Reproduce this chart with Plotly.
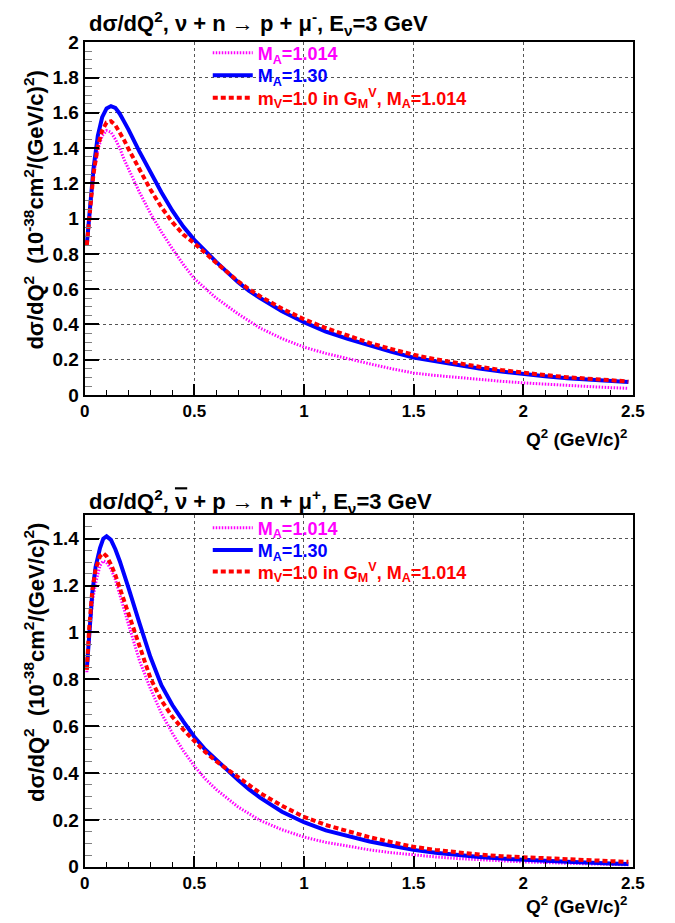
import plotly.graph_objects as go

W, H = 675, 923

# ---------------- data ----------------
# Top panel: nu + n -> p + mu-
q2_top_ma1014 = [0.01, 0.025, 0.04, 0.06, 0.08, 0.10, 0.12, 0.14, 0.16, 0.18, 0.20, 0.25, 0.30, 0.35,
                 0.40, 0.45, 0.50, 0.60, 0.70, 0.75, 0.80, 0.90, 1.00, 1.10, 1.20, 1.30, 1.40, 1.50,
                 1.60, 1.70, 1.80, 1.90, 2.00, 2.10, 2.20, 2.30, 2.40, 2.48]
xs_top_ma1014 = [0.85, 1.05, 1.24, 1.39, 1.47, 1.50, 1.49, 1.45, 1.40, 1.335, 1.28, 1.15, 1.03, 0.925,
                 0.83, 0.74, 0.66, 0.55, 0.46, 0.42, 0.38, 0.32, 0.272, 0.236, 0.205, 0.177, 0.149, 0.125,
                 0.111, 0.099, 0.088, 0.078, 0.069, 0.061, 0.054, 0.048, 0.042, 0.038]

q2_top_ma130 = [0.01, 0.025, 0.04, 0.06, 0.08, 0.10, 0.12, 0.14, 0.16, 0.18, 0.20, 0.25, 0.30, 0.35,
                0.40, 0.45, 0.50, 0.60, 0.70, 0.75, 0.80, 0.90, 1.00, 1.10, 1.20, 1.30, 1.40, 1.50,
                1.60, 1.70, 1.80, 1.90, 2.00, 2.10, 2.20, 2.30, 2.40, 2.48]
xs_top_ma130 = [0.855, 1.08, 1.28, 1.47, 1.575, 1.625, 1.638, 1.628, 1.595, 1.55, 1.505, 1.38, 1.26, 1.15,
                1.045, 0.955, 0.88, 0.755, 0.64, 0.59, 0.55, 0.475, 0.413, 0.36, 0.318, 0.28, 0.245, 0.212,
                0.19, 0.168, 0.15, 0.133, 0.118, 0.106, 0.095, 0.087, 0.079, 0.074]

q2_top_mv10 = [0.01, 0.025, 0.04, 0.06, 0.08, 0.10, 0.12, 0.14, 0.16, 0.18, 0.20, 0.25, 0.30, 0.35,
               0.40, 0.45, 0.50, 0.60, 0.70, 0.75, 0.80, 0.90, 1.00, 1.10, 1.20, 1.30, 1.40, 1.50,
               1.60, 1.70, 1.80, 1.90, 2.00, 2.10, 2.20, 2.30, 2.40, 2.48]
xs_top_mv10 = [0.85, 1.06, 1.25, 1.41, 1.50, 1.545, 1.552, 1.53, 1.49, 1.445, 1.395, 1.28, 1.165, 1.065,
               0.98, 0.91, 0.86, 0.75, 0.645, 0.60, 0.56, 0.49, 0.43, 0.38, 0.335, 0.295, 0.26, 0.228,
               0.203, 0.18, 0.16, 0.142, 0.126, 0.113, 0.101, 0.091, 0.083, 0.077]

# Bottom panel: anti-nu + p -> n + mu+
q2_bot = [0.01, 0.02, 0.035, 0.05, 0.07, 0.085, 0.10, 0.12, 0.14, 0.16, 0.18, 0.20, 0.25, 0.30,
          0.35, 0.40, 0.45, 0.50, 0.55, 0.60, 0.70, 0.75, 0.80, 0.90, 1.00, 1.10, 1.20, 1.30,
          1.40, 1.50, 1.60, 1.70, 1.80, 1.90, 2.00, 2.20, 2.40, 2.48]
xs_bot_ma1014 = [0.83, 0.97, 1.13, 1.21, 1.285, 1.305, 1.298, 1.27, 1.225, 1.165, 1.10, 1.035, 0.88, 0.76,
                 0.655, 0.57, 0.495, 0.43, 0.375, 0.33, 0.255, 0.225, 0.198, 0.158, 0.127, 0.104, 0.087, 0.072,
                 0.06, 0.05, 0.042, 0.035, 0.03, 0.025, 0.021, 0.015, 0.01, 0.008]
xs_bot_ma130 = [0.845, 1.00, 1.17, 1.28, 1.36, 1.40, 1.41, 1.395, 1.355, 1.305, 1.25, 1.19, 1.04, 0.895,
                0.775, 0.69, 0.62, 0.555, 0.50, 0.455, 0.37, 0.33, 0.295, 0.235, 0.19, 0.155, 0.13, 0.108,
                0.09, 0.072, 0.06, 0.05, 0.042, 0.035, 0.029, 0.021, 0.014, 0.012]
xs_bot_mv10 = [0.84, 1.01, 1.18, 1.27, 1.325, 1.338, 1.325, 1.29, 1.245, 1.19, 1.13, 1.07, 0.93, 0.805,
               0.71, 0.64, 0.585, 0.535, 0.49, 0.45, 0.38, 0.345, 0.315, 0.26, 0.213, 0.178, 0.15, 0.126,
               0.105, 0.085, 0.072, 0.061, 0.052, 0.045, 0.04, 0.031, 0.024, 0.021]

legend_names = [
    '<span style="color:#ff00ff">M<sub>A</sub>=1.014</span>',
    '<span style="color:#0000ff">M<sub>A</sub>=1.30</span>',
    '<span style="color:#ff0000">m<sub>V</sub>=1.0 in G<sub>M</sub><sup>V</sup>, M<sub>A</sub>=1.014</span>',
]
titles = [
    "dσ/dQ<sup>2</sup>, ν + n → p + μ<sup>-</sup>, E<sub>ν</sub>=3 GeV",
    'dσ/dQ<sup>2</sup>, <span style="text-decoration:overline">ν</span> + p → n + μ<sup>+</sup>, E<sub>ν</sub>=3 GeV',
]
ytitle = "dσ/dQ<sup>2</sup>  (10<sup>-38</sup>cm<sup>2</sup>/(GeV/c)<sup>2</sup>)"
xtitle = "Q<sup>2</sup> (GeV/c)<sup>2</sup>"

# ---------------- styling ----------------
FONT = "Liberation Sans, Arial, Helvetica, sans-serif"
styles = [
    dict(color="#ff00ff", width=3, dash="1.5px,1.5px"),
    dict(color="#0000ff", width=4, dash="solid"),
    dict(color="#ff0000", width=4, dash="5px,3px"),
]


def px_x(p):
    return p / W


def px_y(p):
    return 1 - p / H


fig = go.Figure()

top_series = [(q2_top_ma1014, xs_top_ma1014), (q2_top_ma130, xs_top_ma130), (q2_top_mv10, xs_top_mv10)]
bot_series = [(q2_bot, xs_bot_ma1014), (q2_bot, xs_bot_ma130), (q2_bot, xs_bot_mv10)]

leg_ids_top = ["legend", "legend2", "legend3"]
leg_ids_bot = ["legend4", "legend5", "legend6"]

for i, (x, y) in enumerate(top_series):
    fig.add_trace(go.Scatter(x=x, y=y, mode="lines", line=styles[i], name=legend_names[i],
                             xaxis="x", yaxis="y", legend=leg_ids_top[i]))
for i, (x, y) in enumerate(bot_series):
    fig.add_trace(go.Scatter(x=x, y=y, mode="lines", line=styles[i], name=legend_names[i],
                             xaxis="x2", yaxis="y2", legend=leg_ids_bot[i]))

X0, X1 = 81.7, 644
TOP_T, TOP_B = 33, 394
BOT_T, BOT_B = 517, 876.7

common_x = dict(range=[0, 2.5], tick0=0, dtick=0.5, ticks="inside", ticklen=11, tickwidth=1.5,
                tickcolor="black", showgrid=True, gridcolor="#555", griddash="dot", gridwidth=1,
                showline=True, mirror=True, linecolor="black", linewidth=2, zeroline=False,
                tickfont=dict(family=FONT, size=17, color="black", weight="bold"),
                minor=dict(dtick=0.1, ticks="inside", ticklen=5, tickwidth=1.2, tickcolor="black", showgrid=False))
common_y = dict(tick0=0, dtick=0.2, ticks="inside", ticklen=14, tickwidth=1.5,
                tickcolor="black", showgrid=True, gridcolor="#555", griddash="dot", gridwidth=1,
                showline=True, mirror=True, linecolor="black", linewidth=2, zeroline=False,
                tickfont=dict(family=FONT, size=19, color="black", weight="bold"),
                minor=dict(dtick=0.05, ticks="inside", ticklen=7, tickwidth=1.2, tickcolor="gray", showgrid=False))

leg_common = dict(bgcolor="rgba(0,0,0,0)", borderwidth=0, itemwidth=40, xanchor="left", yanchor="middle",
                  font=dict(family=FONT, size=18, weight="bold"), tracegroupgap=0)

row_top = [44, 67, 90]
row_bot = [530, 553, 575]
legends = {}
for lid, yc in zip(leg_ids_top, row_top):
    legends[lid] = dict(x=px_x(208), y=px_y(yc), **leg_common)
for lid, yc in zip(leg_ids_bot, row_bot):
    legends[lid] = dict(x=px_x(208), y=px_y(yc), **leg_common)

fig.update_layout(
    width=W, height=H, paper_bgcolor="white", plot_bgcolor="white",
    margin=dict(l=0, r=0, t=0, b=0),
    showlegend=True,
    xaxis=dict(domain=[px_x(X0), px_x(X1)], anchor="y", **common_x),
    yaxis=dict(domain=[px_y(TOP_B), px_y(TOP_T)], anchor="x", range=[0, 2], **common_y),
    xaxis2=dict(domain=[px_x(X0), px_x(X1)], anchor="y2", **common_x),
    yaxis2=dict(domain=[px_y(BOT_B), px_y(BOT_T)], anchor="x2", range=[0, 1.5], **common_y),
    **legends,
)

ann = []
# panel titles
ann.append(dict(text=titles[0], x=px_x(84), y=px_y(14), xref="paper", yref="paper",
                xanchor="left", yanchor="middle", showarrow=False,
                font=dict(family=FONT, size=22, color="black", weight="bold")))
ann.append(dict(text=titles[1], x=px_x(84), y=px_y(503), xref="paper", yref="paper",
                xanchor="left", yanchor="middle", showarrow=False,
                font=dict(family=FONT, size=22, color="black", weight="bold")))
# x titles
for yc in (438, 916):
    ann.append(dict(text=xtitle, x=px_x(640), y=px_y(yc), xref="paper", yref="paper",
                    xanchor="right", yanchor="middle", showarrow=False,
                    font=dict(family=FONT, size=19, color="black", weight="bold")))
# y titles
for yc in (205, 668):
    ann.append(dict(text=ytitle, x=px_x(30), y=px_y(yc), xref="paper", yref="paper",
                    xanchor="center", yanchor="middle", textangle=-90, showarrow=False,
                    font=dict(family=FONT, size=22, color="black", weight="bold")))
fig.update_layout(annotations=ann)

fig.write_html("out.html")
